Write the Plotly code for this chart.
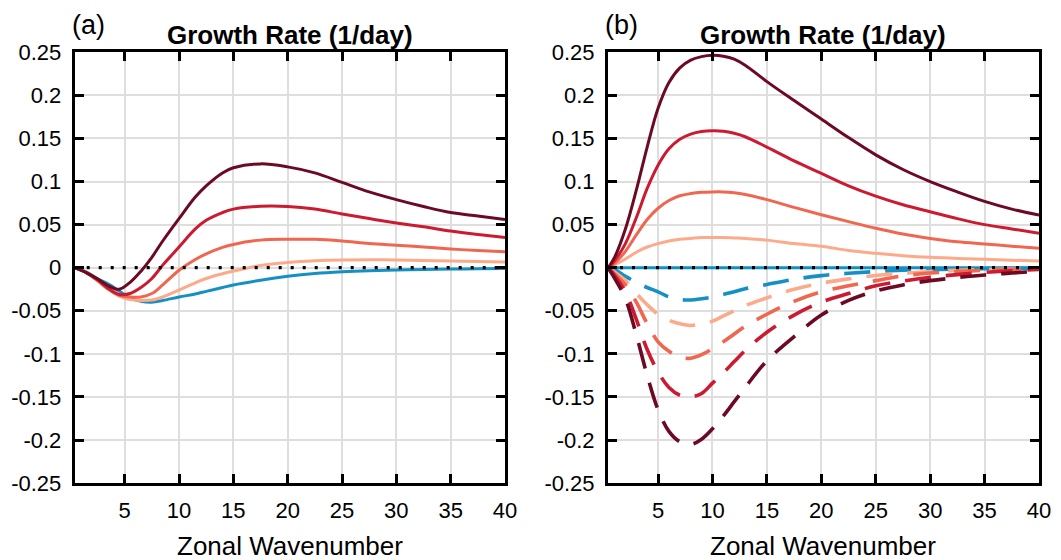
import plotly.graph_objects as go

# ---------------- data ----------------
# panel (a)
xa = [0.4, 1.5, 2.5, 3.5, 4.5, 5.5, 6.5, 7.5, 8.5, 10, 11.5, 12.5, 14, 15,
      17.5, 20, 22.5, 25, 27.5, 30, 32.5, 35, 37.5, 40]
a_blue = [0, -0.005, -0.013, -0.019, -0.027, -0.035, -0.039, -0.040, -0.038, -0.034,
          -0.0305, -0.0275, -0.023, -0.020, -0.0145, -0.0100, -0.0068, -0.0048, -0.0035,
          -0.0027, -0.002, -0.0016, -0.0012, -0.0008]
a_lsalmon = [0, -0.006, -0.015, -0.025, -0.033, -0.037, -0.038, -0.0375, -0.034, -0.026,
             -0.0175, -0.0125, -0.007, -0.004, 0.0025, 0.006, 0.008, 0.009, 0.0092,
             0.009, 0.0085, 0.0078, 0.0072, 0.0066]
a_salmon = [0, -0.006, -0.015, -0.025, -0.032, -0.034, -0.034, -0.030, -0.020, -0.003,
            0.0095, 0.016, 0.0235, 0.027, 0.032, 0.033, 0.033, 0.031, 0.028, 0.026,
            0.024, 0.0217, 0.020, 0.0186]
a_red = [0, -0.006, -0.014, -0.024, -0.031, -0.030, -0.023, -0.0125, 0.003, 0.024,
         0.045, 0.055, 0.064, 0.068, 0.0712, 0.071, 0.068, 0.0624, 0.057, 0.052,
         0.0475, 0.0426, 0.0385, 0.035]
a_dred = [0, -0.006, -0.013, -0.021, -0.025, -0.017, -0.004, 0.012, 0.031, 0.057,
          0.082, 0.095, 0.110, 0.116, 0.1205, 0.117, 0.110, 0.099, 0.088, 0.079,
          0.071, 0.064, 0.060, 0.056]

# panel (b)
xb = [0.4, 1, 2, 3, 4, 5, 6, 7, 8, 9, 10, 11, 12, 13, 15, 17.5, 20, 22.5, 25,
      27.5, 30, 32.5, 35, 37.5, 40]
b_blue = [0] * len(xb)
b_lsalmon = [0, 0.003, 0.010, 0.018, 0.024, 0.028, 0.031, 0.033, 0.034, 0.035, 0.035,
             0.035, 0.0345, 0.034, 0.032, 0.028, 0.025, 0.020, 0.0167, 0.014, 0.012,
             0.0108, 0.0097, 0.0087, 0.0078]
b_salmon = [0, 0.005, 0.019, 0.038, 0.056, 0.069, 0.078, 0.0835, 0.086, 0.0875, 0.088,
            0.088, 0.087, 0.085, 0.079, 0.070, 0.0615, 0.0535, 0.0457, 0.039, 0.034,
            0.030, 0.0275, 0.025, 0.0225]
b_red = [0, 0.008, 0.028, 0.058, 0.092, 0.119, 0.138, 0.149, 0.155, 0.158, 0.159,
         0.1585, 0.156, 0.152, 0.140, 0.124, 0.1095, 0.095, 0.083, 0.073, 0.065,
         0.057, 0.050, 0.045, 0.040]
b_dred = [0, 0.012, 0.045, 0.090, 0.140, 0.185, 0.215, 0.232, 0.241, 0.245, 0.2465,
          0.2455, 0.242, 0.235, 0.216, 0.194, 0.1725, 0.151, 0.131, 0.114, 0.100,
          0.088, 0.077, 0.068, 0.061]

bd_blue = [0, -0.002, -0.010, -0.017, -0.023, -0.028, -0.034, -0.037, -0.0375, -0.036,
           -0.034, -0.031, -0.028, -0.0245, -0.0195, -0.0135, -0.0092, -0.0065,
           -0.0045, -0.003, -0.0022, -0.0016, -0.0012, -0.001, -0.0008]
bd_lsalmon = [0, -0.005, -0.015, -0.030, -0.043, -0.054, -0.061, -0.065, -0.067, -0.065,
              -0.062, -0.056, -0.050, -0.044, -0.035, -0.025, -0.018, -0.013, -0.009,
              -0.0065, -0.0045, -0.003, -0.0022, -0.0015, -0.001]
bd_salmon = [0, -0.007, -0.020, -0.040, -0.065, -0.086, -0.097, -0.104, -0.105, -0.101,
             -0.094, -0.086, -0.077, -0.068, -0.054, -0.039, -0.028, -0.021, -0.015,
             -0.0095, -0.0062, -0.0045, -0.003, -0.002, -0.0015]
bd_red = [0, -0.009, -0.028, -0.060, -0.095, -0.121, -0.139, -0.148, -0.150, -0.146,
          -0.134, -0.122, -0.109, -0.096, -0.075, -0.055, -0.040, -0.030, -0.021,
          -0.0155, -0.011, -0.008, -0.0055, -0.0035, -0.002]
bd_dred = [0, -0.012, -0.036, -0.078, -0.125, -0.165, -0.190, -0.202, -0.205, -0.199,
           -0.187, -0.172, -0.1555, -0.139, -0.108, -0.080, -0.055, -0.038, -0.027,
           -0.020, -0.015, -0.0115, -0.0085, -0.0062, -0.004]

x_ticks = [5, 10, 15, 20, 25, 30, 35, 40]
y_ticks = [-0.25, -0.2, -0.15, -0.1, -0.05, 0, 0.05, 0.1, 0.15, 0.2, 0.25]
y_ticklabels = ["-0.25", "-0.2", "-0.15", "-0.1", "-0.05", "0", "0.05", "0.1",
                "0.15", "0.2", "0.25"]
panel_labels = ["(a)", "(b)"]
title_text = "Growth Rate (1/day)"
xlabel_text = "Zonal Wavenumber"

# ---------------- styling ----------------
C_BLUE = "#1590c4"
C_LS = "#fcaa8a"
C_S = "#f0664f"
C_R = "#cc1a31"
C_DR = "#6c0a24"
FONT = "Liberation Sans, Arial, Helvetica, sans-serif"
DASH = "26px,15px"

fig = go.Figure()


def add(x, y, color, axis, dash="solid", width=3):
    fig.add_trace(go.Scatter(
        x=x, y=y, mode="lines", xaxis="x" + axis, yaxis="y" + axis,
        line=dict(color=color, width=width, dash=dash, shape="spline", smoothing=1.0),
        showlegend=False, hoverinfo="skip"))


for y, c in [(a_blue, C_BLUE), (a_lsalmon, C_LS), (a_salmon, C_S), (a_red, C_R), (a_dred, C_DR)]:
    add(xa, y, c, "")
for y, c in [(b_blue, C_BLUE), (b_lsalmon, C_LS), (b_salmon, C_S), (b_red, C_R), (b_dred, C_DR)]:
    add(xb, y, c, "2")
for y, c in [(bd_blue, C_BLUE), (bd_lsalmon, C_LS), (bd_salmon, C_S), (bd_red, C_R), (bd_dred, C_DR)]:
    add(xb, y, c, "2", dash=DASH, width=3.6)

# the page body adds an 8px offset, so the figure is 8px smaller and all targets shift by 8
OFF = 8
W, H = 1061 - OFF, 560 - OFF


def px(v):
    return (v - OFF) / W


def py(v):
    return 1 - (v - OFF) / H


L_dom = [px(74.7), px(505)]
R_dom = [px(608), px(1039)]
Y_dom = [py(483.1), py(52.3)]

xa_common = dict(
    range=[0.4, 40], tickvals=x_ticks, ticks="inside", ticklen=9, tickwidth=3,
    tickcolor="black", showline=True, linewidth=3, linecolor="black",
    mirror="allticks", showgrid=True, gridcolor="#dedede", gridwidth=2,
    zeroline=False, tickfont=dict(family=FONT, size=22, color="black"),
    ticklabelstandoff=5, automargin=False)
ya_common = dict(
    range=[-0.25, 0.25], tickvals=y_ticks, ticktext=y_ticklabels, ticks="inside",
    ticklen=9, tickwidth=3, tickcolor="black", showline=True, linewidth=3,
    linecolor="black", mirror="allticks", showgrid=True, gridcolor="#dedede",
    gridwidth=2, zeroline=False, tickfont=dict(family=FONT, size=22, color="black"),
    ticklabelstandoff=6, automargin=False)

fig.update_layout(
    width=W, height=H, margin=dict(l=0, r=0, t=0, b=0),
    paper_bgcolor="white", plot_bgcolor="white",
    xaxis=dict(xa_common, domain=L_dom, anchor="y"),
    yaxis=dict(ya_common, domain=Y_dom, anchor="x"),
    xaxis2=dict(xa_common, domain=R_dom, anchor="y2"),
    yaxis2=dict(ya_common, domain=Y_dom, anchor="x2"),
)

shapes = []
for xr, yr in [("x domain", "y"), ("x2 domain", "y2")]:
    shapes.append(dict(type="line", xref=xr, yref=yr, x0=0, x1=1, y0=0, y1=0,
                       line=dict(color="black", width=3.2, dash="3px,9px"), layer="above"))
fig.update_layout(shapes=shapes)

ann = []
for i, dom in enumerate([L_dom, R_dom]):
    cx = (dom[0] + dom[1]) / 2
    ann.append(dict(text="<b>" + title_text + "</b>", x=cx, y=py(35), xref="paper",
                    yref="paper", showarrow=False, xanchor="center", yanchor="middle",
                    font=dict(family=FONT, size=26, color="black")))
    ann.append(dict(text=panel_labels[i], x=dom[0] - 5 / W, y=py(8), xref="paper",
                    yref="paper", showarrow=False, xanchor="left", yanchor="top",
                    font=dict(family=FONT, size=27, color="black")))
    ann.append(dict(text=xlabel_text, x=cx, y=py(546), xref="paper", yref="paper",
                    showarrow=False, xanchor="center", yanchor="middle",
                    font=dict(family=FONT, size=26, color="black")))
fig.update_layout(annotations=ann)

fig.write_html("out.html")
